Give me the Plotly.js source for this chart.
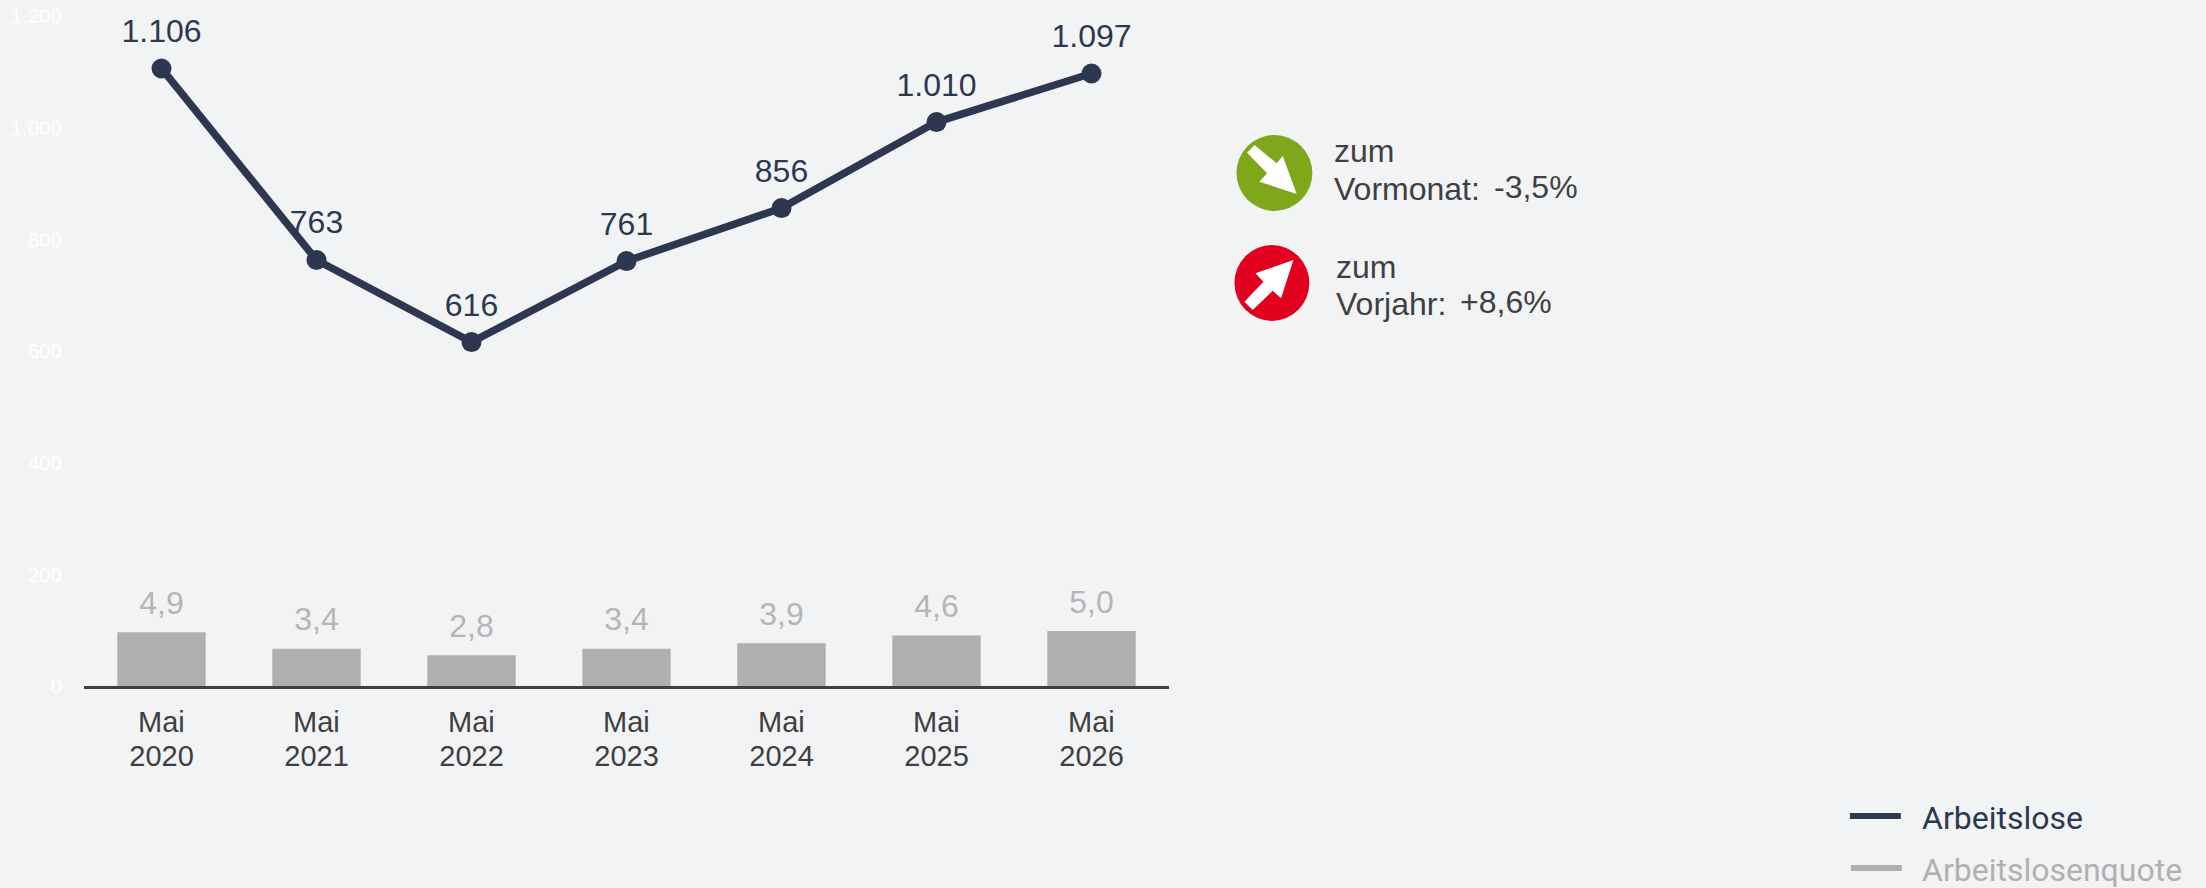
<!DOCTYPE html>
<html><head><meta charset="utf-8">
<script src="https://cdn.plot.ly/plotly-3.0.1.min.js"></script>
<style>html,body{margin:0;padding:0;background:#f2f3f5;overflow:hidden}</style>
</head><body><div id="chart" style="width:2206px;height:888px"></div>
<script>
const years = ["2020","2021","2022","2023","2024","2025","2026"];
const months = ["Mai","Mai","Mai","Mai","Mai","Mai","Mai"];
const arbeitslose = [1106,763,616,761,856,1010,1097];
const quote = [4.9,3.4,2.8,3.4,3.9,4.6,5.0];
const yTicks = [0,200,400,600,800,1000,1200];
const navy = "#2d3850", grey = "#afafaf", labelGrey = "#b5b5b5", dark = "#3f3f41";
const sans = "Liberation Sans, Arial, sans-serif";
const roboto = "Roboto, sans-serif";
const clear = "rgba(0,0,0,0)";

const L = 83.5, W = 1086, B = 686, H = 670;
const px = x => (x - L) / W;
const py = y => (B - y) / H;
const poly = (ox, oy, pts) => "M" + pts.map(p => px(ox + p[0]/3) + "," + py(oy + p[1]/3)).join("L") + "Z";
const disc = (x0,x1,y0,y1,c) => ({type:"circle",xref:"paper",yref:"paper",x0:px(x0),x1:px(x1),y0:py(y0),y1:py(y1),fillcolor:c,line:{width:0},layer:"above"});
const arrow = d => ({type:"path",xref:"paper",yref:"paper",path:d,fillcolor:"#ffffff",line:{width:0},layer:"above"});
const key = (x0,x1,y,c) => ({type:"line",xref:"paper",yref:"paper",x0:px(x0),x1:px(x1),y0:py(y),y1:py(y),line:{color:c,width:6},layer:"above"});
const note = (x,y,t,fam,col) => ({xref:"paper",yref:"paper",x:px(x),y:py(y),text:t,showarrow:false,xanchor:"left",yanchor:"middle",borderpad:0,
  font:{family:fam||sans,size:32,color:col||dark}});

const traces = [
 {type:"bar",x:years,y:quote,yaxis:"y2",width:0.57,marker:{color:grey,line:{width:0}},showlegend:false,hoverinfo:"skip"},
 {type:"scatter",mode:"markers+text",x:years,y:quote,yaxis:"y2",showlegend:false,marker:{color:clear,size:15},
  texttemplate:"%{y:.1f}",textposition:"top center",cliponaxis:false,textfont:{family:sans,size:32,color:labelGrey},hoverinfo:"skip"},
 {type:"scatter",mode:"lines+markers",x:years,y:arbeitslose,showlegend:false,line:{color:navy,width:7.5},marker:{color:navy,size:20},cliponaxis:false},
 {type:"scatter",mode:"markers+text",x:years,y:arbeitslose,showlegend:false,marker:{color:clear,size:28},
  texttemplate:"%{y:,d}",textposition:"top center",cliponaxis:false,textfont:{family:sans,size:32,color:navy},hoverinfo:"skip"}
];

const layout = {
 width:2206,height:888,paper_bgcolor:"#f2f3f5",plot_bgcolor:"#f2f3f5",separators:",.",
 margin:{l:L,r:2206-L-W,t:16,b:202,pad:0},
 font:{family:sans},showlegend:false,
 xaxis:{type:"category",categoryorder:"array",categoryarray:years,range:[-0.5,6.5],showgrid:false,zeroline:false,showline:true,linecolor:"#404040",linewidth:2.5,ticks:"outside",ticklen:43,tickcolor:clear,
   tickfont:{family:sans,size:29,color:dark},automargin:false,fixedrange:true},
 yaxis:{range:[0,1200],tickvals:yTicks,tickformat:",d",showgrid:false,zeroline:false,showline:false,ticks:"outside",ticklen:17,tickcolor:clear,
   tickfont:{family:sans,size:20.5,color:"#ffffff"},automargin:false,fixedrange:true},
 yaxis2:{overlaying:"y",range:[0,61],visible:false,fixedrange:true},
 shapes:[
  disc(1237,1313,135,211,"#7fa71a"),
  arrow(poly(1200,110,[[165,105],[232,160],[250,138],[292,252],[180,215],[203,190],[143,128]])),
  disc(1235,1310,245,321,"#e2001f"),
  arrow(poly(1200,110,[[282,450],[168,490],[192,515],[135,575],[160,600],[220,542],[245,565]])),
  key(1851,1902,816,navy),
  key(1852,1903,868,grey)
 ],
 annotations:[
  note(1333.5,151,"zum"),note(1333.5,189,"Vormonat:"),note(1494,187,"-3,5%"),
  note(1335.5,267,"zum"),note(1335.5,304,"Vorjahr:"),note(1460,302,"+8,6%"),
  note(1922,818,"Arbeitslose",roboto,navy),
  note(1922,870,"Arbeitslosenquote",roboto,"#b0b0b0")
 ].concat(months.map((m,i) => ({xref:"x",yref:"paper",x:i,y:py(722),text:m,showarrow:false,xanchor:"center",yanchor:"middle",borderpad:0,
   font:{family:sans,size:29,color:dark}})))
};
Plotly.newPlot("chart",traces,layout,{displayModeBar:false,staticPlot:true});
</script></body></html>
